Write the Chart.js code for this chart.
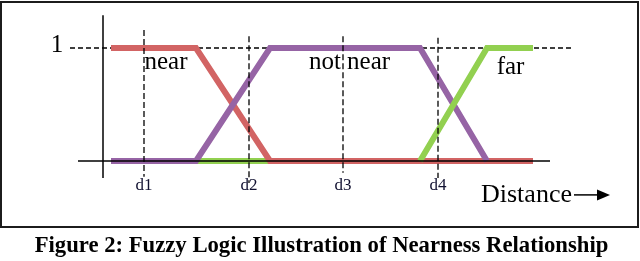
<!DOCTYPE html>
<html lang="en">
<head>
<meta charset="UTF-8">
<script src="https://cdn.jsdelivr.net/npm/chart.js"></script>
<title>Fuzzy nearness</title>
<style>
  body { margin: 0; background: #fff; }
  #frame { position: absolute; left: 0; top: 1px; width: 639px; height: 227px; box-sizing: border-box; border: 2px solid #1c1c1c; }
  #myChart { position: absolute; left: 0; top: 0; }
  #caption { position: absolute; left: 0; top: 232px; width: 643px; text-align: center;
    font: bold 22.7px "Liberation Serif", "Times New Roman", serif; color: #000; }
</style>
</head>
<body>
<div id="frame"></div>
<canvas id="myChart" width="640" height="261"></canvas>
<div id="caption">Figure 2: Fuzzy Logic Illustration of Nearness Relationship</div>
<script>
// breakpoints along the distance axis
const breaks = [0.8, 9.3, 16.7, 31.7, 38.4, 43.0];
const nearY = [1, 1, 0, 0, 0, 0];
const notNearY = [0, 0, 1, 1, 0, null];
const farY = [0, 0, 0, 0, 1, 1];

// dashed guides at d1..d4
const guideLabels = ['d1', 'd2', 'd3', 'd4'];
const guideX = [4.1, 14.6, 24.0, 33.5];
const guideTop = [1.16, 1.105, 1.105, 1.09];
const guideBottom = [-0.14, -0.195, -0.105, -0.15];

const setLabels = ['near', 'not near', 'far'];
const setLabelX = [6.3, 24.65, 40.75];
const setLabelY = [0.87, 0.87, 0.83];

const pts = (ys, from, to) => breaks.slice(from, to).map((x, i) => ({ x: x, y: ys[from + i] }));

const red = 'rgb(210,100,100)';
const purple = 'rgb(150,100,165)';
const green = 'rgb(146,208,80)';

const curve = (data, color, order) => ({
  data: data, borderColor: color, borderWidth: 6, pointRadius: 0,
  tension: 0, fill: false, order: order, borderJoinStyle: 'miter', borderCapStyle: 'butt'
});

const datasets = [
  // y = 1 dashed reference
  { data: [{ x: -3.3, y: 1 }, { x: 47.0, y: 1 }], borderColor: '#000', borderWidth: 1.3,
    borderDash: [5, 3], pointRadius: 0, order: 9 },
  curve(pts(farY, 0, 4), green, 8),
  curve(pts(nearY, 0, 6), red, 7),
  curve(pts(notNearY, 0, 5), purple, 6),
  curve(pts(farY, 3, 6), green, 5),
  ...guideX.map((x, i) => ({
    data: [{ x: x, y: guideTop[i] }, { x: x, y: guideBottom[i] }],
    borderColor: '#000', borderWidth: 1.3, borderDash: [6, 3], pointRadius: 0, order: 2
  })),
  // axes
  { data: [{ x: 0, y: 1.29 }, { x: 0, y: -0.15 }], borderColor: '#000', borderWidth: 1.5, pointRadius: 0, order: 0 },
  { data: [{ x: -2.5, y: 0 }, { x: 44.7, y: 0 }], borderColor: '#000', borderWidth: 1.5, pointRadius: 0, order: 0 }
];

const textPlugin = {
  id: 'texts',
  afterDatasetsDraw(chart) {
    const ctx = chart.ctx;
    const sx = chart.scales.x, sy = chart.scales.y;
    ctx.save();
    ctx.fillStyle = '#000';
    ctx.textBaseline = 'middle';
    ctx.textAlign = 'center';
    ctx.font = '25px "Liberation Serif", serif';
    ctx.fillText('1', sx.getPixelForValue(-4.6), sy.getPixelForValue(1.02));
    setLabels.forEach((t, i) => ctx.fillText(t, sx.getPixelForValue(setLabelX[i]), sy.getPixelForValue(setLabelY[i])));
    ctx.font = '17px "Liberation Serif", serif';
    ctx.fillStyle = '#101030';
    guideLabels.forEach((t, i) => ctx.fillText(t, sx.getPixelForValue(guideX[i]), sy.getPixelForValue(-0.215)));
    ctx.fillStyle = '#000';
    ctx.font = '26px "Liberation Serif", serif';
    ctx.textAlign = 'left';
    const yD = sy.getPixelForValue(-0.30);
    ctx.fillText('Distance', sx.getPixelForValue(37.8), yD);
    // arrow
    const a0 = sx.getPixelForValue(47.1), a1 = sx.getPixelForValue(50.7);
    ctx.strokeStyle = '#000';
    ctx.lineWidth = 1.5;
    ctx.beginPath(); ctx.moveTo(a0, yD); ctx.lineTo(a1 - 10, yD); ctx.stroke();
    ctx.beginPath(); ctx.moveTo(a1, yD); ctx.lineTo(a1 - 13, yD - 5.5); ctx.lineTo(a1 - 13, yD + 5.5); ctx.closePath(); ctx.fill();
    ctx.restore();
  }
};

new Chart(document.getElementById('myChart').getContext('2d'), {
  type: 'line',
  data: { datasets: datasets },
  options: {
    responsive: false,
    animation: false,
    layout: { padding: { left: 43, right: 17, top: 2.8, bottom: 54.8 } },
    plugins: { legend: { display: false }, tooltip: { enabled: false } },
    scales: {
      x: { type: 'linear', min: -6, max: 52, display: false },
      y: { min: -0.4, max: 1.4, display: false }
    }
  },
  plugins: [textPlugin]
});
</script>
</body>
</html>
